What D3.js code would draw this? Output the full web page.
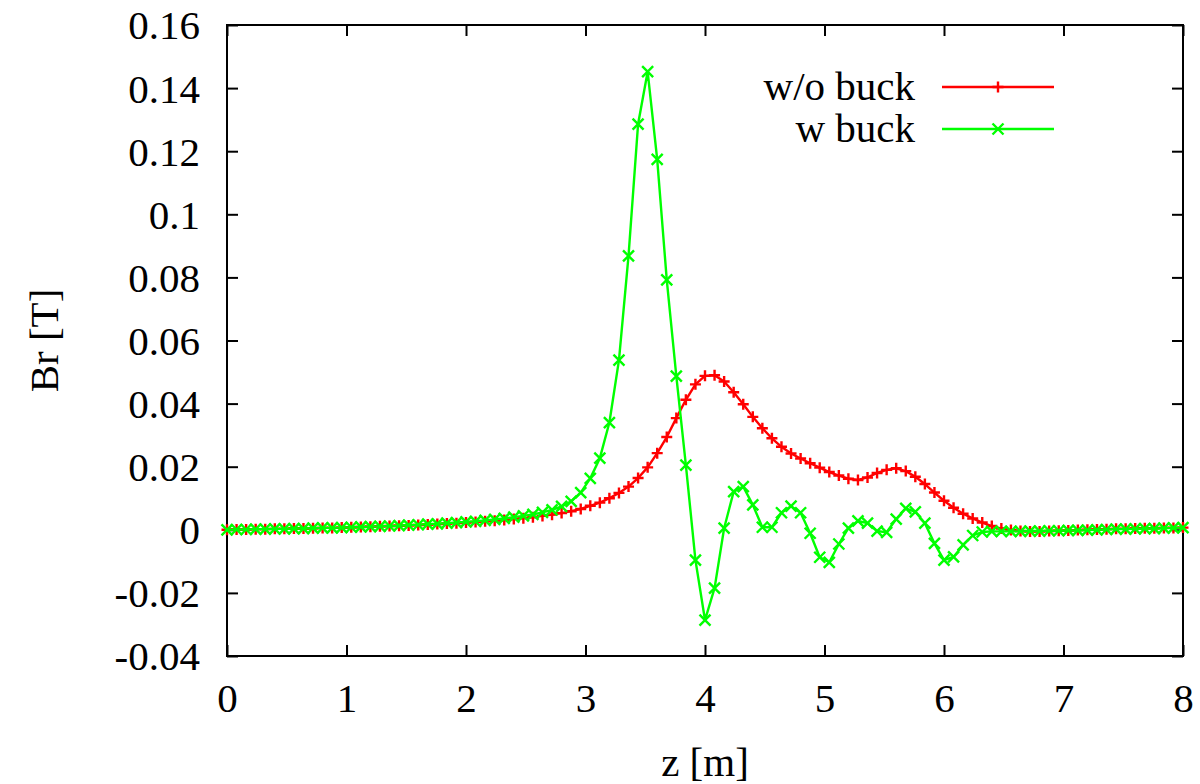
<!DOCTYPE html>
<html>
<head>
<meta charset="utf-8">
<script src="https://cdn.jsdelivr.net/npm/d3@7"></script>
<style>
  html, body { margin: 0; padding: 0; background: #fff; }
  svg { display: block; }
  svg text { font-family: "Liberation Serif", "Times New Roman", Times, "DejaVu Serif", serif; fill: #000; }
</style>
</head>
<body>
<svg id="chart" width="1200" height="784"></svg>
<script>
// Axial position z [m] of each sample
const zValues = [
  0.00, 0.08, 0.16, 0.24, 0.32, 0.40, 0.48, 0.56, 0.64, 0.72,
  0.80, 0.88, 0.96, 1.04, 1.12, 1.20, 1.28, 1.36, 1.44, 1.52,
  1.60, 1.68, 1.76, 1.84, 1.92, 2.00, 2.08, 2.16, 2.24, 2.32,
  2.40, 2.48, 2.56, 2.64, 2.72, 2.80, 2.88, 2.96, 3.04, 3.12,
  3.20, 3.28, 3.36, 3.44, 3.52, 3.60, 3.68, 3.76, 3.84, 3.92,
  4.00, 4.08, 4.16, 4.24, 4.32, 4.40, 4.48, 4.56, 4.64, 4.72,
  4.80, 4.88, 4.96, 5.04, 5.12, 5.20, 5.28, 5.36, 5.44, 5.52,
  5.60, 5.68, 5.76, 5.84, 5.92, 6.00, 6.08, 6.16, 6.24, 6.32,
  6.40, 6.48, 6.56, 6.64, 6.72, 6.80, 6.88, 6.96, 7.04, 7.12,
  7.20, 7.28, 7.36, 7.44, 7.52, 7.60, 7.68, 7.76, 7.84, 7.92,
  8.00
];

// Radial field Br [T] without the bucking coil
const brWithoutBuck = [
  0.0000, 0.0001, 0.0001, 0.0002, 0.0002, 0.0003, 0.0003, 0.0004, 0.0004, 0.0005,
  0.0006, 0.0006, 0.0007, 0.0008, 0.0009, 0.0010, 0.0011, 0.0012, 0.0013, 0.0014,
  0.0015, 0.0017, 0.0018, 0.0020, 0.0021, 0.0023, 0.0025, 0.0027, 0.0029, 0.0031,
  0.0034, 0.0037, 0.0040, 0.0044, 0.0048, 0.0053, 0.0059, 0.0066, 0.0076, 0.0086,
  0.0100, 0.0117, 0.0137, 0.0164, 0.0198, 0.0243, 0.0294, 0.0354, 0.0412, 0.0461,
  0.0488, 0.0490, 0.0470, 0.0436, 0.0398, 0.0358, 0.0322, 0.0290, 0.0263, 0.0242,
  0.0226, 0.0211, 0.0197, 0.0183, 0.0172, 0.0162, 0.0158, 0.0166, 0.0180, 0.0190,
  0.0195, 0.0186, 0.0168, 0.0145, 0.0118, 0.0092, 0.0070, 0.0051, 0.0036, 0.0023,
  0.0012, 0.0004, -0.0001, -0.0004, -0.0005, -0.0005, -0.0004, -0.0003, -0.0002, -0.0001,
  0.0000, 0.0001, 0.0002, 0.0003, 0.0003, 0.0004, 0.0005, 0.0005, 0.0006, 0.0006,
  0.0007
];

// Radial field Br [T] with the bucking coil
const brWithBuck = [
  0.0000, 0.0001, 0.0001, 0.0002, 0.0002, 0.0003, 0.0003, 0.0004, 0.0004, 0.0005,
  0.0006, 0.0006, 0.0007, 0.0008, 0.0009, 0.0010, 0.0011, 0.0012, 0.0013, 0.0015,
  0.0016, 0.0018, 0.0019, 0.0021, 0.0023, 0.0025, 0.0027, 0.0030, 0.0033, 0.0036,
  0.0040, 0.0044, 0.0049, 0.0055, 0.0063, 0.0074, 0.0090, 0.0118, 0.0163, 0.0227,
  0.0340, 0.0538, 0.0868, 0.1286, 0.1452, 0.1174, 0.0792, 0.0487, 0.0205, -0.0096,
  -0.0286, -0.0185, 0.0005, 0.0121, 0.0137, 0.0079, 0.0008, 0.0008, 0.0054, 0.0075,
  0.0054, -0.0011, -0.0087, -0.0103, -0.0045, 0.0005, 0.0028, 0.0021, -0.0004, -0.0008,
  0.0034, 0.0068, 0.0057, 0.0021, -0.0043, -0.0096, -0.0086, -0.0048, -0.0018, -0.0007,
  -0.0005, -0.0005, -0.0005, -0.0005, -0.0004, -0.0004, -0.0003, -0.0003, -0.0002, -0.0002,
  -0.0001, 0.0000, 0.0001, 0.0002, 0.0002, 0.0003, 0.0004, 0.0004, 0.0005, 0.0006,
  0.0007
];

const xTicks = [0, 1, 2, 3, 4, 5, 6, 7, 8];
const yTicks = [-0.04, -0.02, 0, 0.02, 0.04, 0.06, 0.08, 0.1, 0.12, 0.14, 0.16];
const yTickLabels = ["-0.04", "-0.02", "0", "0.02", "0.04", "0.06", "0.08", "0.1", "0.12", "0.14", "0.16"];

const seriesNames = ["w/o buck", "w buck"];
const seriesColors = ["#ff0000", "#00ff00"];
const seriesMarkers = ["plus", "cross"];

const svg = d3.select("#chart");
const plotLeft = 227, plotRight = 1183, plotTop = 25, plotBottom = 656;
const serif = '"Liberation Serif", "Times New Roman", Times, "DejaVu Serif", serif';

const x = d3.scaleLinear().domain([0, 8]).range([plotLeft, plotRight]);
const y = d3.scaleLinear().domain([-0.04, 0.16]).range([plotBottom, plotTop]);

const tickLen = 11;
const fontSize = 41;
const strokeW = 2.4;

// Plot frame
svg.append("rect")
  .attr("x", plotLeft).attr("y", plotTop)
  .attr("width", plotRight - plotLeft).attr("height", plotBottom - plotTop)
  .attr("fill", "none").attr("stroke", "#000").attr("stroke-width", 2);

// Bottom axis with inward ticks, mirrored on top
const gx = svg.append("g").attr("transform", `translate(0,${plotBottom})`)
  .call(d3.axisBottom(x).tickValues(xTicks).tickSize(-tickLen).tickFormat(d3.format("d")))
  .attr("font-family", serif);
gx.select(".domain").remove();
gx.selectAll("line").attr("stroke", "#000").attr("stroke-width", 2);
gx.selectAll("text").attr("font-size", fontSize).attr("font-family", serif)
  .attr("dy", null).attr("y", 56).attr("fill", "#000");

const gxTop = svg.append("g").attr("transform", `translate(0,${plotTop})`)
  .call(d3.axisTop(x).tickValues(xTicks).tickSize(-tickLen).tickFormat(""));
gxTop.select(".domain").remove();
gxTop.selectAll("line").attr("stroke", "#000").attr("stroke-width", 2);

// Left axis with inward ticks, mirrored on right
const gy = svg.append("g").attr("transform", `translate(${plotLeft},0)`)
  .call(d3.axisLeft(y).tickValues(yTicks).tickSize(-tickLen).tickFormat((d, i) => yTickLabels[i]))
  .attr("font-family", serif);
gy.select(".domain").remove();
gy.selectAll("line").attr("stroke", "#000").attr("stroke-width", 2);
gy.selectAll("text").attr("font-size", fontSize).attr("font-family", serif)
  .attr("x", -27).attr("dy", "0.34em").attr("fill", "#000");

const gyRight = svg.append("g").attr("transform", `translate(${plotRight},0)`)
  .call(d3.axisRight(y).tickValues(yTicks).tickSize(-tickLen).tickFormat(""));
gyRight.select(".domain").remove();
gyRight.selectAll("line").attr("stroke", "#000").attr("stroke-width", 2);

// Axis titles
svg.append("text")
  .attr("x", (plotLeft + plotRight) / 2).attr("y", 776)
  .attr("text-anchor", "middle").attr("font-size", fontSize).attr("font-family", serif)
  .text("z [m]");
svg.append("text")
  .attr("transform", `translate(58,${(plotTop + plotBottom) / 2}) rotate(-90)`)
  .attr("text-anchor", "middle").attr("font-size", fontSize).attr("font-family", serif)
  .text("Br [T]");

// Marker shapes
function markerPath(kind, cx, cy) {
  const h = 5.5;
  if (kind === "plus") {
    return `M${cx - h},${cy}L${cx + h},${cy}M${cx},${cy - h}L${cx},${cy + h}`;
  }
  return `M${cx - h},${cy - h}L${cx + h},${cy + h}M${cx - h},${cy + h}L${cx + h},${cy - h}`;
}

const seriesValues = [brWithoutBuck, brWithBuck];
const line = d3.line().x(d => x(d[0])).y(d => y(d[1]));

seriesValues.forEach((vals, s) => {
  const pts = zValues.map((z, i) => [z, vals[i]]);
  const g = svg.append("g");
  g.append("path")
    .attr("d", line(pts))
    .attr("fill", "none")
    .attr("stroke", seriesColors[s])
    .attr("stroke-width", strokeW)
    .attr("stroke-linejoin", "round");
  g.selectAll("path.marker")
    .data(pts)
    .join("path")
    .attr("class", "marker")
    .attr("d", d => markerPath(seriesMarkers[s], x(d[0]), y(d[1])))
    .attr("stroke", seriesColors[s])
    .attr("stroke-width", strokeW)
    .attr("fill", "none");
});

// Legend
const legendRows = [87, 129];
seriesNames.forEach((name, s) => {
  const ly = legendRows[s];
  svg.append("text")
    .attr("x", 915).attr("y", ly).attr("dy", "0.32em")
    .attr("text-anchor", "end").attr("font-size", fontSize).attr("font-family", serif)
    .text(name);
  svg.append("line")
    .attr("x1", 942).attr("x2", 1054).attr("y1", ly).attr("y2", ly)
    .attr("stroke", seriesColors[s]).attr("stroke-width", strokeW);
  svg.append("path")
    .attr("d", markerPath(seriesMarkers[s], 998, ly))
    .attr("stroke", seriesColors[s]).attr("stroke-width", strokeW).attr("fill", "none");
});
</script>
</body>
</html>
